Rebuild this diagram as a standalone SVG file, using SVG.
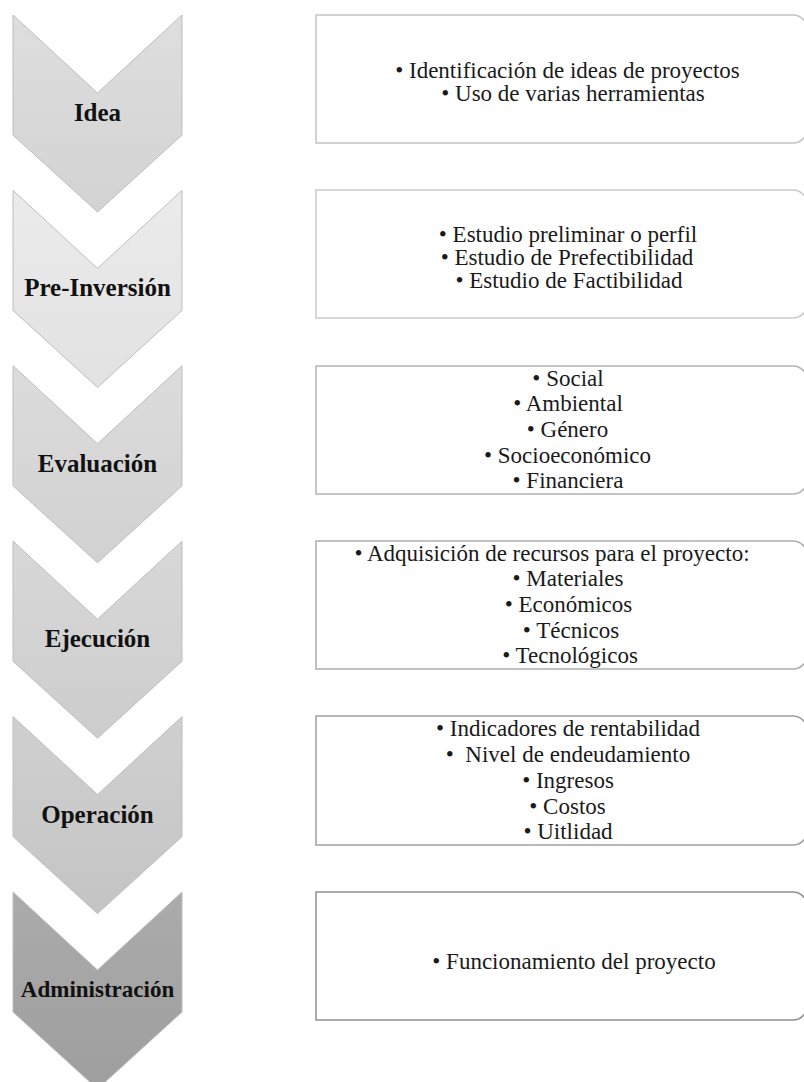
<svg xmlns="http://www.w3.org/2000/svg" width="804" height="1082" viewBox="0 0 804 1082">
<defs>
<linearGradient id="g1" x1="0" y1="0" x2="0" y2="1"><stop offset="0" stop-color="#dedede"/><stop offset="1" stop-color="#d3d3d3"/></linearGradient>
<linearGradient id="g2" x1="0" y1="0" x2="0" y2="1"><stop offset="0" stop-color="#ebebeb"/><stop offset="1" stop-color="#e2e2e2"/></linearGradient>
<linearGradient id="g3" x1="0" y1="0" x2="0" y2="1"><stop offset="0" stop-color="#dcdcdc"/><stop offset="1" stop-color="#d1d1d1"/></linearGradient>
<linearGradient id="g4" x1="0" y1="0" x2="0" y2="1"><stop offset="0" stop-color="#d8d8d8"/><stop offset="1" stop-color="#cdcdcd"/></linearGradient>
<linearGradient id="g5" x1="0" y1="0" x2="0" y2="1"><stop offset="0" stop-color="#d0d0d0"/><stop offset="1" stop-color="#c4c4c4"/></linearGradient>
<linearGradient id="g6" x1="0" y1="0" x2="0" y2="1"><stop offset="0" stop-color="#ababab"/><stop offset="1" stop-color="#9e9e9e"/></linearGradient>
</defs>
<style>
.chev{stroke:#bdbdbd;stroke-width:1}
.lbl{font-family:"Liberation Serif","Times New Roman",serif;font-weight:bold;font-size:25px;fill:#111;text-anchor:middle}
.box{fill:#fff;stroke-width:1.5}
.txt{font-family:"Liberation Serif","Times New Roman",serif;font-size:23px;fill:#1a1a1a;text-anchor:middle}
</style>
<rect width="804" height="1082" fill="#fff"/>
<g id="connectors"/>
<g id="n1">
<path class="chev" fill="url(#g1)" d="M13,15 L97.5,93 L182,15 V135 L97.5,212 L13,135 Z"/>
<text class="lbl" x="97.5" y="121">Idea</text>
<path class="box" stroke="#c4c4c4" d="M316,15 H793 A14,14 0 0 1 807,29 V129 A14,14 0 0 1 793,143 H316 Z"/>
<text class="txt" x="567.5" y="77.5">• Identificación de ideas de proyectos</text>
<text class="txt" x="573" y="100.5">• Uso de varias herramientas</text>
</g>
<g id="n2">
<path class="chev" fill="url(#g2)" d="M13,190.4 L97.5,268.4 L182,190.4 V310.4 L97.5,387.4 L13,310.4 Z"/>
<text class="lbl" x="97.5" y="296.4">Pre-Inversión</text>
<path class="box" stroke="#cacaca" d="M316,190 H793 A14,14 0 0 1 807,204 V304 A14,14 0 0 1 793,318 H316 Z"/>
<text class="txt" x="568" y="241.5">• Estudio preliminar o perfil</text>
<text class="txt" x="567" y="264.5">• Estudio de Prefectibilidad</text>
<text class="txt" x="569" y="288">• Estudio de Factibilidad</text>
</g>
<g id="n3">
<path class="chev" fill="url(#g3)" d="M13,365.8 L97.5,443.8 L182,365.8 V485.8 L97.5,562.8 L13,485.8 Z"/>
<text class="lbl" x="97.5" y="471.8">Evaluación</text>
<path class="box" stroke="#b4b4b4" d="M316,366 H793 A14,14 0 0 1 807,380 V480 A14,14 0 0 1 793,494 H316 Z"/>
<text class="txt" x="568" y="385.5">• Social</text>
<text class="txt" x="568" y="411">• Ambiental</text>
<text class="txt" x="567.5" y="437">• Género</text>
<text class="txt" x="567.5" y="462.5">• Socioeconómico</text>
<text class="txt" x="568" y="488">• Financiera</text>
</g>
<g id="n4">
<path class="chev" fill="url(#g4)" d="M13,541.2 L97.5,619.2 L182,541.2 V661.2 L97.5,738.2 L13,661.2 Z"/>
<text class="lbl" x="97.5" y="647.2">Ejecución</text>
<path class="box" stroke="#adadad" d="M316,541 H793 A14,14 0 0 1 807,555 V655 A14,14 0 0 1 793,669 H316 Z"/>
<text class="txt" x="552" y="560.5">• Adquisición de recursos para el proyecto:</text>
<text class="txt" x="568" y="585.5">• Materiales</text>
<text class="txt" x="568.5" y="611.5">• Económicos</text>
<text class="txt" x="571" y="637.5">• Técnicos</text>
<text class="txt" x="570" y="663">• Tecnológicos</text>
</g>
<g id="n5">
<path class="chev" fill="url(#g5)" d="M13,716.6 L97.5,794.6 L182,716.6 V836.6 L97.5,913.6 L13,836.6 Z"/>
<text class="lbl" x="97.5" y="822.6">Operación</text>
<path class="box" stroke="#a0a0a0" d="M316,716 H793 A14,14 0 0 1 807,730 V831 A14,14 0 0 1 793,845 H316 Z"/>
<text class="txt" x="568" y="735.5">• Indicadores de rentabilidad</text>
<text class="txt" x="568" y="762">•&#160; Nivel de endeudamiento</text>
<text class="txt" x="568" y="788">• Ingresos</text>
<text class="txt" x="567.5" y="813.5">• Costos</text>
<text class="txt" x="568" y="839">• Uitlidad</text>
</g>
<g id="n6">
<path class="chev" stroke="#8f8f8f" fill="url(#g6)" d="M13,892 L97.5,970 L182,892 V1012 L97.5,1089 L13,1012 Z"/>
<text class="lbl" x="97.5" y="997" style="font-size:23px">Administración</text>
<path class="box" stroke="#909090" d="M316,892 H793 A14,14 0 0 1 807,906 V1006 A14,14 0 0 1 793,1020 H316 Z"/>
<text class="txt" x="574" y="968.5">• Funcionamiento del proyecto</text>
</g>
</svg>
